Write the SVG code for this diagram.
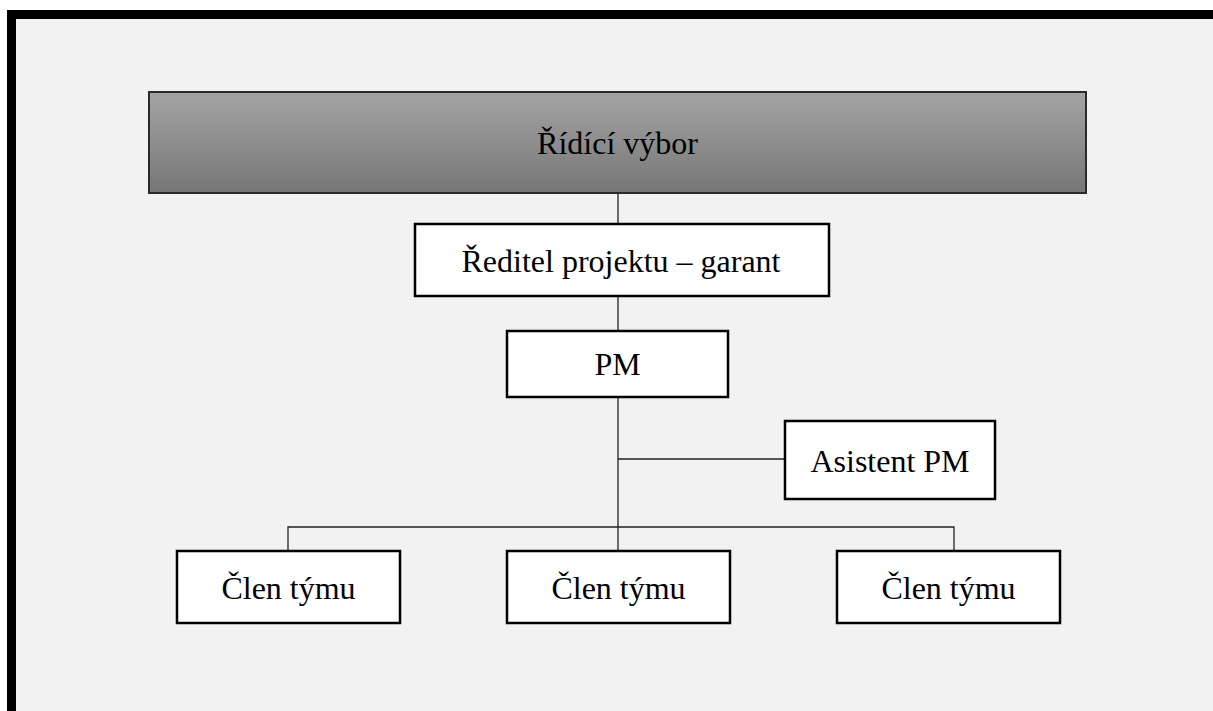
<svg xmlns="http://www.w3.org/2000/svg" width="1213" height="711" viewBox="0 0 1213 711">
<style>
.box{fill:#ffffff;stroke:#000000;stroke-width:2.5}
.lbl{font-family:'Liberation Serif',Tinos,'Times New Roman','DejaVu Serif',serif;font-size:32px;fill:#000000;text-anchor:middle}
.conn{stroke:#222222;stroke-width:1.3;fill:none}
</style>
<defs>
<linearGradient id="topg" x1="0" y1="0" x2="0" y2="1">
<stop offset="0" stop-color="#a4a4a4"/>
<stop offset="1" stop-color="#767676"/>
</linearGradient>
</defs>
<rect x="0" y="0" width="1213" height="711" fill="#ffffff"/>
<rect x="7" y="10" width="1206" height="701" fill="#000000"/>
<rect x="16" y="19" width="1197" height="692" fill="#f2f2f2"/>
<g id="connectors">
<line class="conn" x1="618" y1="193" x2="618" y2="224"/>
<line class="conn" x1="618" y1="296" x2="618" y2="331"/>
<line class="conn" x1="618" y1="397" x2="618" y2="551"/>
<line class="conn" x1="618" y1="459" x2="785" y2="459"/>
<polyline class="conn" points="288,551 288,527 954,527 954,551"/>
</g>
<g id="ridici-vybor">
<rect x="149" y="92" width="937" height="101" fill="url(#topg)" stroke="#2a2a2a" stroke-width="2"/>
<text class="lbl" x="617.5" y="154" font-family="Liberation Serif">Řídící výbor</text>
</g>
<g id="reditel">
<rect class="box" x="415" y="224" width="414" height="72"/>
<text class="lbl" x="621" y="272" font-family="Liberation Serif">Ředitel projektu – garant</text>
</g>
<g id="pm">
<rect class="box" x="507" y="331" width="221" height="66"/>
<text class="lbl" x="617.5" y="375" font-family="Liberation Serif">PM</text>
</g>
<g id="asistent">
<rect class="box" x="785" y="421" width="210" height="78"/>
<text class="lbl" x="890" y="472" font-family="Liberation Serif">Asistent PM</text>
</g>
<g id="clen1">
<rect class="box" x="177" y="551" width="223" height="72"/>
<text class="lbl" x="288.5" y="599" font-family="Liberation Serif">Člen týmu</text>
</g>
<g id="clen2">
<rect class="box" x="507" y="551" width="223" height="72"/>
<text class="lbl" x="618.5" y="599" font-family="Liberation Serif">Člen týmu</text>
</g>
<g id="clen3">
<rect class="box" x="837" y="551" width="223" height="72"/>
<text class="lbl" x="948.5" y="599" font-family="Liberation Serif">Člen týmu</text>
</g>
</svg>
